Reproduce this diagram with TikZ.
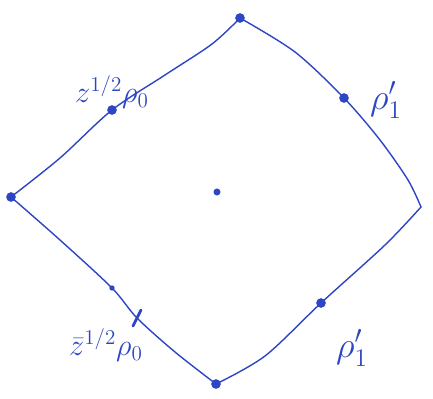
\documentclass[tikz,border=0pt]{standalone}
\definecolor{penblue}{RGB}{45,70,195}
\begin{document}
\begin{tikzpicture}[x=0.02cm,y=-0.02cm,
  pen/.style={draw=penblue, line width=0.8pt, line cap=round, line join=round},
  dot/.style={circle, fill=penblue, inner sep=0pt, minimum size=#1},
  dot/.default=5.5pt,
  lab/.style={text=penblue, font=\LARGE, inner sep=1pt},
  biglab/.style={lab, font=\huge}]
\useasboundingbox (0,0) rectangle (433,399);
% vertices and marked points
\node[dot] (T) at (240,18) {};
\node[dot] (L) at (11,197) {};
\coordinate (R) at (421,207);
\node[dot] (B) at (216,384) {};
\node[dot=4pt] (C) at (217,192) {};
\node[dot] (A) at (112,110) {};
\node[dot] (D) at (344,98) {};
\node[dot] (E) at (321,303) {};
\node[dot=3pt] (F) at (112,288) {};
\coordinate (G) at (137,318);
\coordinate (G1) at (133,326);
\coordinate (G2) at (141,310);
% edges
\draw[pen] plot[smooth, tension=0.5] coordinates {(L.center) (60,158) (A.center) (165,75) (212,44) (T.center)};
\draw[pen] plot[smooth, tension=0.5] coordinates {(T.center) (295,52) (D.center) (380,140) (408,180) (R)};
\draw[pen] plot[smooth, tension=0.5] coordinates {(R) (385,245) (E.center) (265,356) (B.center)};
\draw[pen] plot[smooth, tension=0.5] coordinates {(L.center) (60,240) (F.center) (G) (175,352) (B.center)};
\draw[pen, line width=1.6pt] (G1) -- (G2);
% labels
\node[lab] (la) at (112,92) {$z^{1/2}\rho_0$};
\node[biglab] (lb) at (386,100) {$\rho_1'$};
\node[biglab] (lc) at (352,348) {$\rho_1'$};
\node[lab] (ld) at (106,345) {$\bar z^{1/2}\rho_0$};
\end{tikzpicture}
\end{document}
